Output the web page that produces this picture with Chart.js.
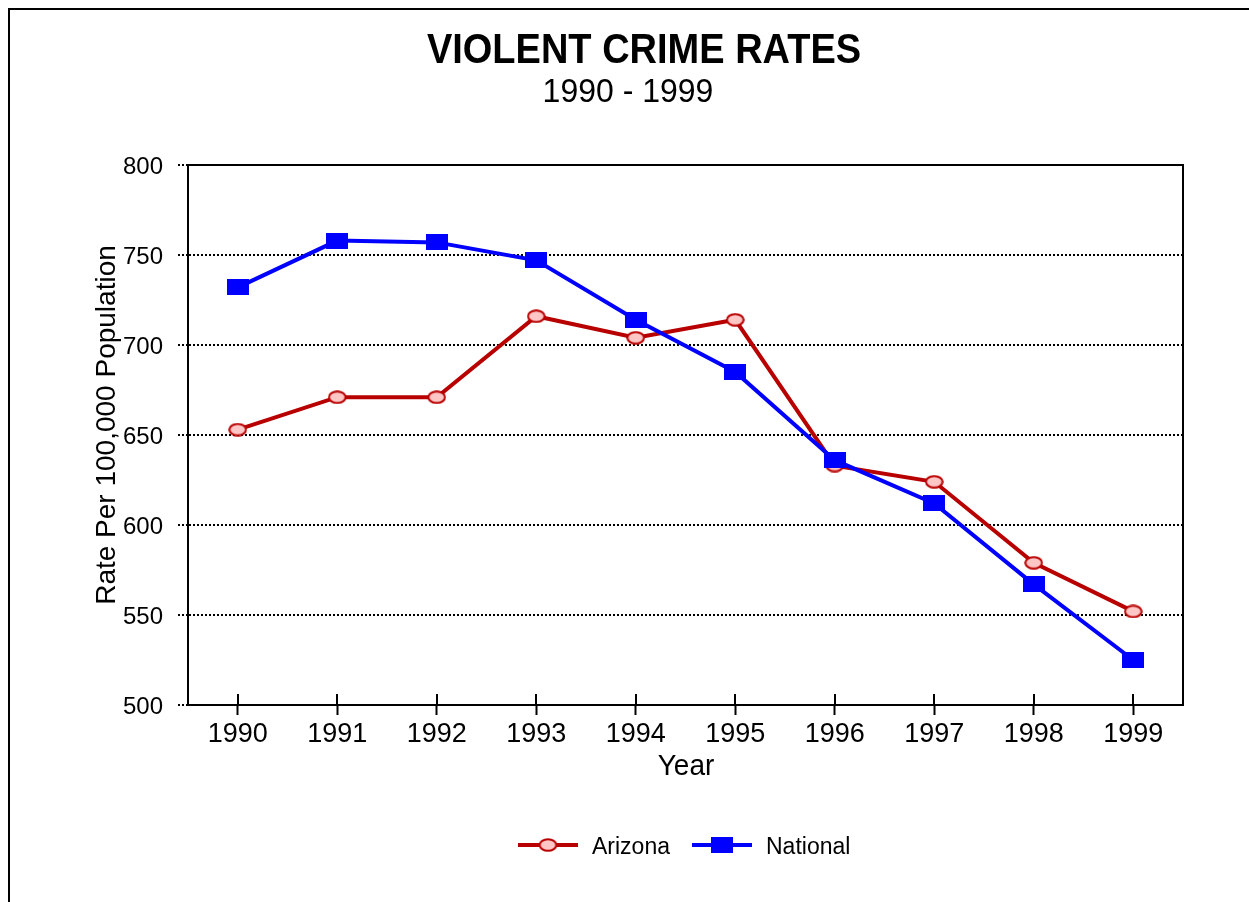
<!DOCTYPE html>
<html>
<head>
<meta charset="utf-8">
<title>Violent Crime Rates</title>
<script src="https://cdn.jsdelivr.net/npm/chart.js@4.4.1/dist/chart.umd.min.js"></script>
<style>
  html, body { margin: 0; padding: 0; background: #fff; overflow: hidden; }
  #wrap { width: 1249px; height: 902px; position: relative; }
</style>
</head>
<body>
<div id="wrap"><canvas id="crimeChart"></canvas></div>
<script>
// rates per 100,000 population
const years = ['1990', '1991', '1992', '1993', '1994', '1995', '1996', '1997', '1998', '1999'];
const arizonaRates = [653, 671, 671, 716, 704, 714, 633, 624, 579, 552];
const nationalRates = [732, 758, 757, 747, 714, 685, 636, 612, 567, 525];
const yTickValues = [500, 550, 600, 650, 700, 750, 800];

const FONT = '"Liberation Sans", Arial, sans-serif';
const RED = '#b80000';
const PINK = '#ffc6c6';
const BLUE = '#0000ff';

// marker images so points can be an ellipse / a flat rectangle
function ellipseMarker(w, h) {
    const c = document.createElement('canvas');
    c.width = w; c.height = h;
    const g = c.getContext('2d');
    g.beginPath();
    g.ellipse(w / 2, h / 2, w / 2 - 1.2, h / 2 - 1.2, 0, 0, Math.PI * 2);
    g.fillStyle = PINK;
    g.fill();
    g.lineWidth = 2;
    g.strokeStyle = RED;
    g.stroke();
    return c;
}

function rectMarker(w, h) {
    const c = document.createElement('canvas');
    c.width = w; c.height = h;
    const g = c.getContext('2d');
    g.fillStyle = BLUE;
    g.fillRect(0, 0, w, h);
    return c;
}

const azMarker = ellipseMarker(19, 14);
const natMarker = rectMarker(22, 16);

// text drawn slightly taller than wide
function tallText(ctx, text, x, y, stretch) {
    ctx.save();
    ctx.translate(x, y);
    ctx.scale(1, stretch);
    ctx.fillText(text, 0, 0);
    ctx.restore();
}

// frame, outer border, titles and legend
const decorations = {
    id: 'decorations',
    beforeDatasetsDraw(chart) {
        const { ctx, chartArea: a, scales: { x } } = chart;
        ctx.save();
        // inner half of the x tick marks
        ctx.strokeStyle = '#000';
        ctx.lineWidth = 2;
        ctx.beginPath();
        years.forEach((_, i) => {
            const px = Math.round(x.getPixelForTick(i));
            ctx.moveTo(px, a.bottom);
            ctx.lineTo(px, a.bottom - 11);
        });
        ctx.stroke();
        ctx.restore();
    },
    afterDraw(chart) {
        const { ctx, chartArea: a } = chart;
        ctx.save();
        ctx.strokeStyle = '#000';
        ctx.lineWidth = 2;
        ctx.strokeRect(a.left, a.top, a.right - a.left, a.bottom - a.top);

        ctx.beginPath();
        ctx.moveTo(9, chart.height);
        ctx.lineTo(9, 9);
        ctx.lineTo(chart.width, 9);
        ctx.stroke();

        ctx.fillStyle = '#000';
        ctx.textAlign = 'center';
        ctx.textBaseline = 'middle';
        ctx.font = 'bold 38px ' + FONT;
        tallText(ctx, 'VIOLENT CRIME RATES', 644, 51, 1.1);
        ctx.font = '32px ' + FONT;
        tallText(ctx, '1990 - 1999', 628, 93, 1.05);

        ctx.font = '28px ' + FONT;
        tallText(ctx, 'Year', 686, 767, 1.05);
        ctx.save();
        ctx.translate(107, 425);
        ctx.rotate(-Math.PI / 2);
        ctx.fillText('Rate Per 100,000 Population', 0, 0);
        ctx.restore();

        // legend
        const items = [
            { label: 'Arizona', color: RED, marker: azMarker, x0: 518 },
            { label: 'National', color: BLUE, marker: natMarker, x0: 692 }
        ];
        const ly = 845;
        ctx.font = '23px ' + FONT;
        ctx.textAlign = 'left';
        items.forEach(it => {
            ctx.strokeStyle = it.color;
            ctx.lineWidth = 4;
            ctx.beginPath();
            ctx.moveTo(it.x0, ly);
            ctx.lineTo(it.x0 + 60, ly);
            ctx.stroke();
            const m = it.marker;
            ctx.drawImage(m, it.x0 + 30 - m.width / 2, ly - m.height / 2);
            ctx.fillStyle = '#000';
            tallText(ctx, it.label, it.x0 + 74, ly + 2, 1.05);
        });
        ctx.restore();
    }
};

new Chart(document.getElementById('crimeChart'), {
    type: 'line',
    data: {
        labels: years,
        datasets: [
            {
                label: 'Arizona',
                data: arizonaRates,
                borderColor: RED,
                backgroundColor: PINK,
                borderWidth: 4,
                tension: 0,
                pointStyle: azMarker,
                pointRadius: 8,
                order: 1
            },
            {
                label: 'National',
                data: nationalRates,
                borderColor: BLUE,
                backgroundColor: BLUE,
                borderWidth: 4,
                tension: 0,
                pointStyle: natMarker,
                pointRadius: 8,
                order: 0
            }
        ]
    },
    options: {
        responsive: true,
        maintainAspectRatio: false,
        animation: false,
        layout: { padding: { top: 165, right: 66, bottom: 0, left: 0 } },
        plugins: {
            legend: { display: false },
            tooltip: { enabled: false }
        },
        scales: {
            x: {
                offset: true,
                afterFit: (scale) => { scale.height = 197; },
                grid: {
                    drawOnChartArea: false,
                    offset: false,
                    tickLength: 10,
                    tickWidth: 2,
                    tickColor: '#000'
                },
                border: { display: true, color: '#000', width: 2 },
                ticks: {
                    color: '#000',
                    padding: 3,
                    maxRotation: 0,
                    font: { family: FONT, size: 27 }
                }
            },
            y: {
                min: 500,
                max: 800,
                afterFit: (scale) => { scale.width = 188; },
                afterBuildTicks: (scale) => {
                    scale.ticks = yTickValues.map(v => ({ value: v }));
                },
                grid: {
                    color: '#000',
                    lineWidth: 2,
                    tickLength: 10,
                    tickColor: '#000',
                    tickWidth: 2,
                    tickBorderDash: [2, 2]
                },
                border: { display: true, color: '#000', width: 2, dash: [2, 2] },
                ticks: {
                    color: '#000',
                    padding: 15,
                    labelOffset: 2,
                    font: { family: FONT, size: 24 }
                }
            }
        }
    },
    plugins: [decorations]
});
</script>
</body>
</html>
